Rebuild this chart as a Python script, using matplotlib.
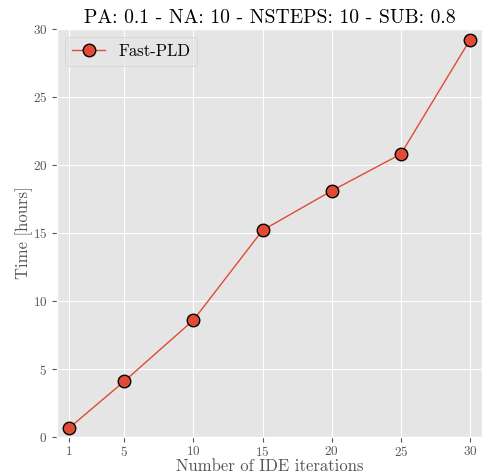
import matplotlib
matplotlib.use('Agg')
import matplotlib.pyplot as plt

plt.style.use('ggplot')
plt.rcParams['font.family'] = ['cmr10', 'DejaVu Serif']
plt.rcParams['mathtext.fontset'] = 'cm'
plt.rcParams['axes.unicode_minus'] = False
plt.rcParams['axes.formatter.use_mathtext'] = True

iterations = [1, 5, 10, 15, 20, 25, 30]
times = [0.66, 4.1, 8.6, 15.2, 18.1, 20.8, 29.2]

fig = plt.figure(figsize=(4.83, 4.74), dpi=100)
ax = fig.add_axes([0.118, 0.078, 0.880, 0.861])
ax.plot(iterations, times, '-o', color='#E24A33', markersize=9,
        markeredgecolor='black', markeredgewidth=1.0, linewidth=1.0,
        label='Fast-PLD')
ax.set_xticks(iterations)
ax.set_ylim(0, 30)
ax.margins(x=0.03)
ax.set_xlabel('Number of IDE iterations', fontsize=12, labelpad=0)
ax.set_ylabel('Time [hours]', fontsize=12, labelpad=0)
ax.set_title('PA: 0.1 - NA: 10 - NSTEPS: 10 - SUB: 0.8', fontsize=14.2, pad=4)
ax.tick_params(labelsize=9.5)
ax.tick_params(axis='x', pad=2)
ax.legend(loc='upper left', fontsize=12)
fig.savefig('out.png', dpi=100)
